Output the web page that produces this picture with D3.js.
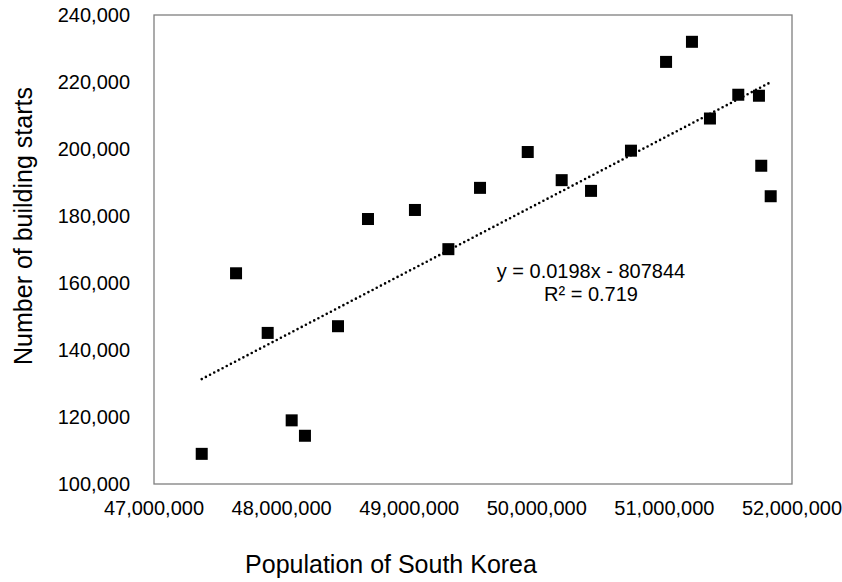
<!DOCTYPE html>
<html lang="en">
<head>
    <meta charset="UTF-8">
    <title>Building starts vs population</title>
    <script src="https://cdn.jsdelivr.net/npm/d3@7"></script>
    <style>
        body { margin: 0; background: #fff; }
        text { font-family: "Liberation Sans", Arial, sans-serif; fill: #000; }
    </style>
</head>
<body>
<svg></svg>
<script>
    // values
    var population = [47374000, 47643000, 47891000, 48079000, 48183000, 48442000, 48677000,
                      49045000, 49307000, 49555000, 49929000, 50195000, 50425000, 50738000,
                      51013000, 51216000, 51357000, 51579000, 51741000, 51759000, 51833000]
    var starts = [109000, 162900, 145100, 119000, 114400, 147100, 179100,
                  181800, 170100, 188400, 199100, 190700, 187500, 199500,
                  226000, 232000, 209100, 216200, 215900, 195000, 185900]
    var xTicks = [47000000, 48000000, 49000000, 50000000, 51000000, 52000000]
    var yTicks = [100000, 120000, 140000, 160000, 180000, 200000, 220000, 240000]
    var eqLines = ["y = 0.0198x - 807844", "R\u00b2 = 0.719"]

    var svg = d3.select("svg")
                .attr("width", 842)
                .attr("height", 582)

    const x = d3.scaleLinear()
                .domain([47000000, 52000000])
                .range([154, 792])

    const y = d3.scaleLinear()
                .domain([100000, 240000])
                .range([484, 15])

    var fmt = d3.format(",")

    // frame
    svg.append("rect")
        .attr("x", 154).attr("y", 15)
        .attr("width", 638).attr("height", 469)
        .attr("fill", "none")
        .attr("stroke", "#7f7f7f")
        .attr("stroke-width", 1.3)

    svg.append("g")
        .selectAll("text")
        .data(xTicks)
        .join("text")
        .attr("x", d => x(d))
        .attr("y", 515)
        .attr("text-anchor", "middle")
        .attr("font-size", 20)
        .text(d => fmt(d))

    svg.append("g")
        .selectAll("text")
        .data(yTicks)
        .join("text")
        .attr("x", 130)
        .attr("y", d => y(d))
        .attr("dy", 7)
        .attr("text-anchor", "end")
        .attr("font-size", 20)
        .text(d => fmt(d))

    // linear trend line (least squares over the points)
    var mx = d3.mean(population), my = d3.mean(starts)
    var sxy = d3.sum(population, (d, i) => (d - mx) * (starts[i] - my))
    var sxx = d3.sum(population, d => (d - mx) * (d - mx))
    var slope = sxy / sxx, icpt = my - slope * mx
    var ext = d3.extent(population)

    svg.append("line")
        .attr("x1", x(ext[0])).attr("y1", y(icpt + slope * ext[0]))
        .attr("x2", x(ext[1])).attr("y2", y(icpt + slope * ext[1]))
        .attr("stroke", "#000")
        .attr("stroke-width", 2.6)
        .attr("stroke-linecap", "round")
        .attr("stroke-dasharray", "0,4.7")

    svg.selectAll("rect.pt")
        .data(population)
        .join("rect")
        .attr("class", "pt")
        .attr("x", d => x(d) - 6)
        .attr("y", (d, i) => y(starts[i]) - 6)
        .attr("width", 12)
        .attr("height", 12)
        .attr("fill", "#000")

    svg.append("g")
        .selectAll("text")
        .data(eqLines)
        .join("text")
        .attr("x", 591)
        .attr("y", (d, i) => 278 + i * 23)
        .attr("text-anchor", "middle")
        .attr("font-size", 20)
        .text(d => d)

    svg.append("text")
        .attr("x", 391)
        .attr("y", 573)
        .attr("text-anchor", "middle")
        .attr("font-size", 25)
        .text("Population of South Korea")

    svg.append("text")
        .attr("transform", "translate(32,226) rotate(-90)")
        .attr("text-anchor", "middle")
        .attr("font-size", 25)
        .text("Number of building starts")
</script>
</body>
</html>
